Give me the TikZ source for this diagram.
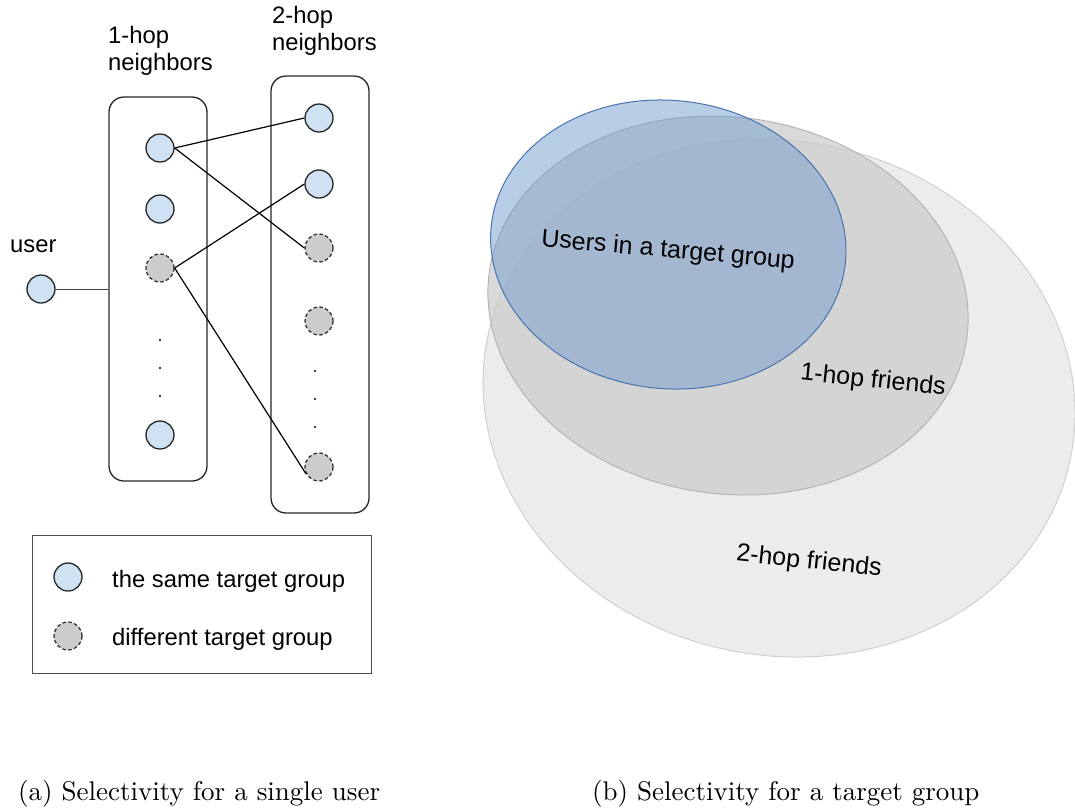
\documentclass[tikz,border=0pt]{standalone}
\usepackage{fontspec}
\newfontfamily\arial{Liberation Sans}
\newfontfamily\lmten[Extension=.otf]{lmroman10-regular}
\definecolor{nodeblue}{HTML}{CFE2F3}
\definecolor{nodegray}{HTML}{CCCCCC}
\definecolor{setblue}{RGB}{116,157,206}
\definecolor{setedge}{HTML}{4A74B0}
\definecolor{twohop}{HTML}{ECECEC}
\definecolor{twohopedge}{HTML}{D0D0D0}
\definecolor{onehop}{HTML}{CCCCCC}
\definecolor{onehopedge}{HTML}{B5B5B5}
\begin{document}
\begin{tikzpicture}[x=1pt,y=-1pt,
  lbl/.style={font=\arial\fontsize{23.8}{27}\selectfont, inner sep=0pt, anchor=base west},
  setlbl/.style={font=\arial\fontsize{25}{28}\selectfont, inner sep=0pt, anchor=center},
  captext/.style={font=\lmten\fontsize{27}{30}\selectfont, inner sep=0pt, anchor=base west},
  same/.style={circle, draw=black!85, line width=1.3pt, fill=nodeblue, minimum size=28pt, inner sep=0pt},
  diff/.style={circle, draw=black!80, dash pattern=on 3.5pt off 2.5pt, line width=1.3pt, fill=nodegray, minimum size=28pt, inner sep=0pt},
  groupbox/.style={draw=black!85, line width=1.3pt, rounded corners=15pt, minimum width=98pt, inner sep=0pt},
  link/.style={line width=1.2pt},
  dotnode/.style={circle, fill=black, inner sep=0pt, minimum size=2.4pt},
]
\useasboundingbox (0,0) rectangle (1075,809);

% ---------- (a) ----------
\node[groupbox, minimum height=384pt] (box1) at (158,289) {};
\node[groupbox, minimum height=437pt] (box2) at (320,294.5) {};

\node[lbl] (t1a) at (108,43) {1-hop};
\node[lbl] (t1b) at (108,70) {neighbors};
\node[lbl] (t2a) at (272,23) {2-hop};
\node[lbl] (t2b) at (272,50) {neighbors};
\node[lbl] (tuser) at (10,252) {user};

\node[same] (user) at (41,289) {};

\node[same] (n1) at (160,148) {};
\node[same] (n2) at (160,209) {};
\node[diff] (n3) at (160,268) {};
\node[dotnode] (d1) at (160,340) {};
\node[dotnode] (d2) at (160,368) {};
\node[dotnode] (d3) at (160,396) {};
\node[same] (n4) at (160,435) {};

\node[same] (m1) at (319,118) {};
\node[same] (m2) at (319,184) {};
\node[diff] (m3) at (319,248) {};
\node[diff] (m4) at (319,321) {};
\node[dotnode] (e1) at (315,371) {};
\node[dotnode] (e2) at (315,399) {};
\node[dotnode] (e3) at (315,427) {};
\node[diff] (m5) at (319,467) {};

\draw[line width=1pt, draw=black!75] (user.east) -- (box1.west);
\draw[link] (n1.east) -- (m1.west);
\draw[link] (n1.east) -- (m3.west);
\draw[link] (n3.east) -- (m2.west);
\draw[link] (n3.east) -- (m5.209);

% legend
\node[draw=black!70, line width=1pt, minimum width=339pt, minimum height=138pt, inner sep=0pt] (legend) at (201.5,604) {};
\node[same] (lsame) at (68,577) {};
\node[diff] (ldiff) at (68,636) {};
\node[lbl] (lsamet) at (112,587) {the same target group};
\node[lbl] (ldifft) at (112,645) {different target group};

% ---------- (b) ----------
\draw[draw=twohopedge, fill=twohop, line width=1pt, rotate around={-12:(779,398)}] (779,398) ellipse [x radius=297.6, y radius=257.1];
\draw[draw=onehopedge, fill=onehop, fill opacity=0.75, line width=1pt, rotate around={-8:(728,305.5)}] (728,305.5) ellipse [x radius=241, y radius=188.3];
\draw[draw=setedge, fill=setblue, fill opacity=0.51, line width=1pt, rotate around={-6:(668.3,244.5)}] (668.3,244.5) ellipse [x radius=178, y radius=144.1];

\node[setlbl, rotate=-5] (users) at (668,251) {Users in a target group};
\node[setlbl, rotate=-6] (hop1) at (873,381) {1-hop friends};
\node[setlbl, rotate=-6] (hop2) at (809,562) {2-hop friends};

% captions
\node[captext] (capa) at (18,800) {(a) Selectivity for a single user};
\node[captext] (capb) at (592,800) {(b) Selectivity for a target group};
\end{tikzpicture}
\end{document}
